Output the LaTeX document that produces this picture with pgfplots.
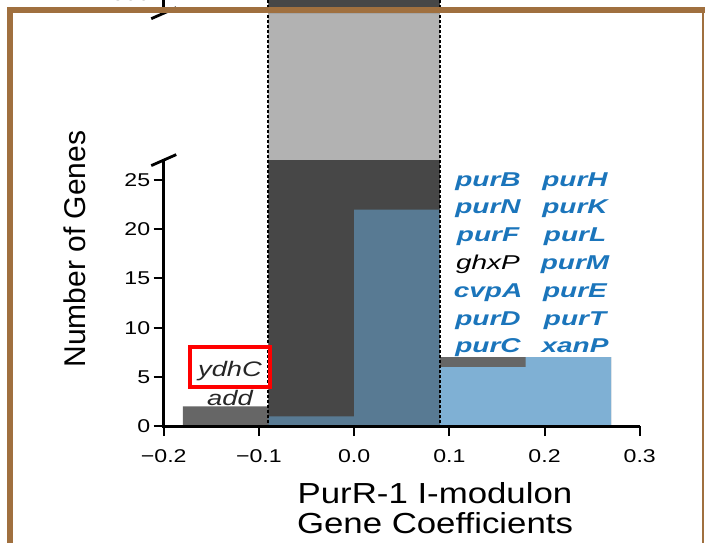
\documentclass[border=0pt]{standalone}
\usepackage{pgfplots}
\pgfplotsset{compat=1.18}
\usepackage{pgfplotstable}
\usepackage{fontspec}
\setmainfont{Liberation Sans}
\newfontfamily\tickf[FakeStretch=1.25]{Liberation Sans}
\newfontfamily\labf[FakeStretch=1.2]{Liberation Sans}
\newfontfamily\genef[FakeStretch=1.4]{Liberation Sans}
\newfontfamily\genes[FakeStretch=1.3]{Liberation Sans}
\definecolor{barg}{HTML}{666666}
\definecolor{barb}{HTML}{7FB0D4}
\definecolor{framec}{HTML}{A0703F}
\definecolor{gtxt}{HTML}{1B75BB}
\definecolor{dtxt}{HTML}{262626}

% all genes (counts 2090 and 1815 run off the lower panel, shown as 30 there)
\pgfplotstableread{
x all
-0.18 2
-0.09 30
0.00 30
0.09 7
0.18 7
0.27 7
}\allgeneslow
% regulated genes
\pgfplotstableread{
x reg
-0.18 0
-0.09 1
0.00 22
0.09 6
0.18 7
0.27 7
}\reggenes

\newcommand{\xl}[1]{\raisebox{-23pt}[0pt][0pt]{#1}}

\begin{document}
\begin{tikzpicture}[x=1pt,y=1pt]
\useasboundingbox (0,0) rectangle (705,-543);
\pgfplotsset{
 common/.style={scale only axis, width=476pt, xmin=-0.2, xmax=0.3,
  axis line style={draw=none},
  major tick style={line width=2pt,black}, major tick length=10pt,
  tick align=outside, tick pos=left,
  tick label style={font=\tickf\fontsize{18.5}{22}\selectfont},
  /pgf/number format/assume math mode=true}
}
% lower axis
\begin{axis}[common, name=lower, anchor=south west, at={(172,-433)},
  height=266pt, ymin=0, ymax=27.03,
  xtick={-0.2,-0.1,0,0.1,0.2,0.3},
  xticklabels={\xl{−0.2},\xl{−0.1},\xl{0.0},\xl{0.1},\xl{0.2},\xl{0.3}},
  ytick={0,5,10,15,20,25}, yticklabels={0,5,10,15,20,25}]
\addplot[const plot, fill=barg, draw=none]
  table[x=x,y=all]{\allgeneslow} \closedcycle;
\addplot[const plot, fill=barb, draw=none]
  table[x=x,y=reg]{\reggenes} \closedcycle;
\coordinate (bBR) at (axis cs:0.09,0);
\end{axis}
% upper axis
\begin{axis}[common, name=upper, anchor=south west, at={(172,-132)},
  height=88pt, ymin=1310, ymax=2190,
  xtick=\empty,
  ytick={1500,2000}, yticklabels={1500,2000}]
\addplot[fill=barg, draw=none] coordinates
  {(-0.09,1310) (-0.09,2090) (0,2090) (0,1815) (0.09,1815) (0.09,1310)} -- cycle;
\coordinate (bTL) at (axis cs:-0.09,2190);
\end{axis}
% axis lines
\draw[line width=2.8pt] (lower.north west) -- (lower.south west) -- (lower.south east);
\draw[line width=2.8pt] (upper.north west) -- (upper.south west);
% threshold box
\fill[black, opacity=0.3] (bTL) rectangle (bBR);
\draw[line width=2pt, dash pattern=on 3pt off 2pt] (bTL) rectangle (bBR);
% axis break marks
\draw[line width=2.8pt] ([xshift=-12.5pt,yshift=-5.5pt]upper.south west) -- ([xshift=12.5pt,yshift=5.5pt]upper.south west);
\draw[line width=2.8pt] ([xshift=-12.5pt,yshift=-5.5pt]lower.north west) -- ([xshift=12.5pt,yshift=5.5pt]lower.north west);
% labels
\node[anchor=base, font=\labf\fontsize{29}{34}\selectfont] at (435,-503) {PurR-1 I-modulon};
\node[anchor=base, font=\labf\fontsize{29}{34}\selectfont] at (435,-533) {Gene Coefficients};
\node[rotate=90, anchor=base, font=\fontsize{30}{36}\selectfont] at (85,-249) {Number of Genes};
% gene names
\begin{scope}[every node/.style={anchor=base, text=gtxt, font=\genef\bfseries\itshape\fontsize{20}{22}\selectfont}]
\node at (488,-186) {purB};
\node at (488,-213.8) {purN};
\node at (488,-241.6) {purF};
\node[text=black, font=\genef\itshape\fontsize{20}{22}\selectfont] at (488,-269.4) {ghxP};
\node at (488,-297.2) {cvpA};
\node at (488,-325) {purD};
\node at (488,-352.8) {purC};
\node at (575,-186) {purH};
\node at (575,-213.8) {purK};
\node at (575,-241.6) {purL};
\node at (575,-269.4) {purM};
\node at (575,-297.2) {purE};
\node at (575,-325) {purT};
\node at (575,-352.8) {xanP};
\end{scope}
\node[anchor=base, text=dtxt, font=\genes\itshape\fontsize{21}{24}\selectfont] at (230,-376.7) {ydhC};
\node[anchor=base, text=dtxt, font=\genes\itshape\fontsize{21}{24}\selectfont] at (230,-405) {add};
\draw[red, line width=4pt] (190,-347) rectangle (270,-387);
% frame
\draw[framec, line width=6pt] (9.5,-543) -- (9.5,-10) -- (705,-10);
\draw[framec, line width=2.5pt] (703,-10) -- (703,-543);
\end{tikzpicture}
\end{document}
